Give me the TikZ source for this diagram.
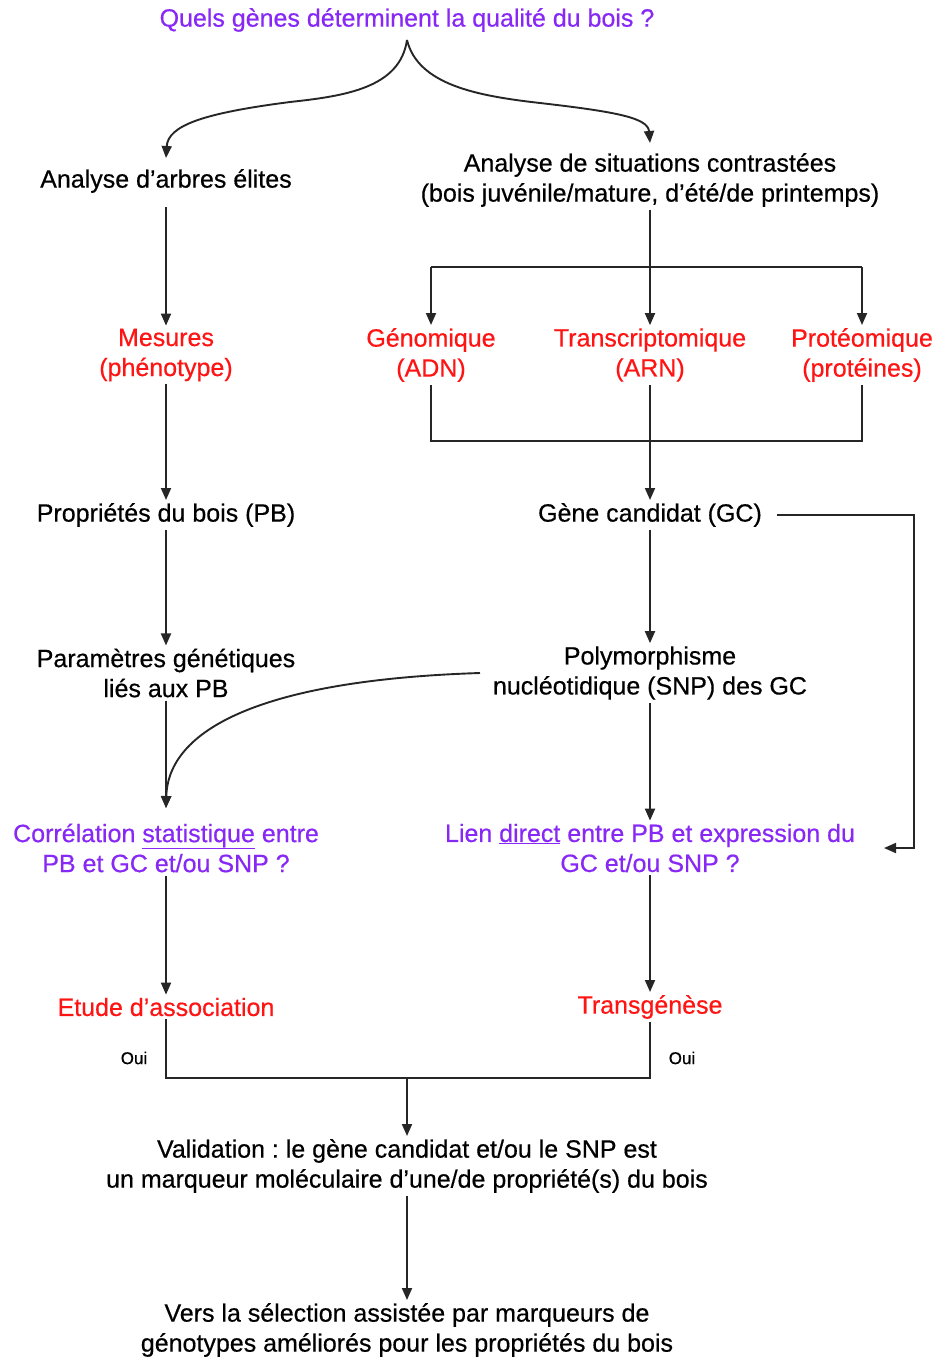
\documentclass[tikz,border=0pt]{standalone}
\usepackage{fontspec}
\setmainfont{Liberation Sans}[FakeBold=0.5]
\usetikzlibrary{arrows.meta}
\definecolor{qpurple}{RGB}{136,40,245}
\definecolor{qred}{RGB}{255,20,20}
\frenchspacing
\tikzset{
  txt/.style={align=center,inner sep=3pt,font=\fontsize{25}{30}\selectfont},
  blk/.style={txt,text=black},
  pur/.style={txt,text=qpurple},
  rd/.style={txt,text=qred},
  small/.style={inner sep=0pt,font=\fontsize{17}{20}\selectfont},
  ln/.style={line width=1.9pt,draw=black!85},
  arr/.style={ln,-{Triangle[length=12pt,width=10pt]}}
}
\begin{document}
\begin{tikzpicture}[x=1pt,y=-1pt]
\useasboundingbox (0,0) rectangle (938,1357);
% nodes
\node[pur] (q) at (407,20) {Quels gènes déterminent la qualité du bois ?};
\node[blk] (elite) at (166,181) {Analyse d’arbres élites};
\node[blk] (contr) at (650,180) {Analyse de situations contrastées\\(bois juvénile/mature, d’été/de printemps)};
\node[rd] (mes) at (166,355) {Mesures\\(phénotype)};
\node[rd] (geno) at (431,355) {Génomique\\(ADN)};
\node[rd] (trans) at (650,355) {Transcriptomique\\(ARN)};
\node[rd] (prot) at (862,355) {Protéomique\\(protéines)};
\node[blk] (pb) at (166,515) {Propriétés du bois (PB)};
\node[blk] (gc) at (650,515) {Gène candidat (GC)};
\node[blk] (para) at (166,673) {Paramètres génétiques\\liés aux PB};
\node[blk] (snp) at (650,673) {Polymorphisme\\nucléotidique (SNP) des GC};
\node[pur] (corr) at (166,848) {Corrélation \underline{statistique} entre\\PB et GC et/ou SNP ?};
\node[pur] (lien) at (650,848) {Lien \underline{direct} entre PB et expression du\\GC et/ou SNP ?};
\node[rd] (etude) at (166,1007) {Etude d’association};
\node[rd] (transg) at (650,1007) {Transgénèse};
\node[small] (oui1) at (134,1058) {Oui};
\node[small] (oui2) at (682,1058) {Oui};
\node[blk] (valid) at (407,1166) {Validation : le gène candidat et/ou le SNP est\\un marqueur moléculaire d’une/de propriété(s) du bois};
\node[blk] (vers) at (407,1330) {Vers la sélection assistée par marqueurs de\\génotypes améliorés pour les propriétés du bois};
% coordinates
\coordinate (top) at (407,40);
\coordinate (tipL) at (166,158);
\coordinate (tipR) at (650,143);
\coordinate (barL) at (431,267);
\coordinate (barR) at (862,267);
\coordinate (b2L) at (431,441);
\coordinate (b2R) at (862,441);
\coordinate (cR1) at (914,515);
\coordinate (cR2) at (914,848);
\coordinate (lienR) at (884,848);
\coordinate (snpL) at (480,673);
\coordinate (corrT) at (166,808);
\coordinate (bL) at (166,1078);
\coordinate (bR) at (650,1078);
\coordinate (bM) at (407,1078);
% brace
\draw[arr] (top) .. controls (400,88) and (345,96) .. (290,102) .. controls (205,113) and (168,125) .. (tipL);
\draw[arr] (top) .. controls (418,85) and (478,96) .. (540,103) .. controls (618,112) and (648,118) .. (tipR);
% left column
\draw[arr] (elite) ++(0,26) -- (mes.north);
\draw[arr] (mes.south) -- (pb.north);
\draw[arr] (pb.south) -- (para.north);
\draw[arr] (para.south) -- (corrT);
\draw[arr] (corr.south) -- (etude.north);
% right column
\draw[arr] (contr.south) -- (trans.north);
\draw[ln] (barL) -- (barR);
\draw[arr] (barL) -- (geno.north);
\draw[arr] (barR) -- (prot.north);
\draw[ln] (geno.south) -- (b2L) -- (b2R) -- (prot.south);
\draw[arr] (trans.south) -- (gc.north);
\draw[arr] (gc.south) -- (snp.north);
\draw[arr] (snp.south) -- (lien.north);
\draw[arr] (lien.south) -- (transg.north);
\draw[arr] (gc.east) ++(12,0) -- (cR1) -- (cR2) -- (lienR);
% curve
\draw[arr] (snpL) .. controls (260,680) and (168,730) .. (corrT);
% bottom
\draw[ln] (etude.south) -- (bL) -- (bR) -- (transg.south);
\draw[arr] (bM) -- (valid.north);
\draw[arr] (valid.south) -- (vers.north);
\end{tikzpicture}
\end{document}
